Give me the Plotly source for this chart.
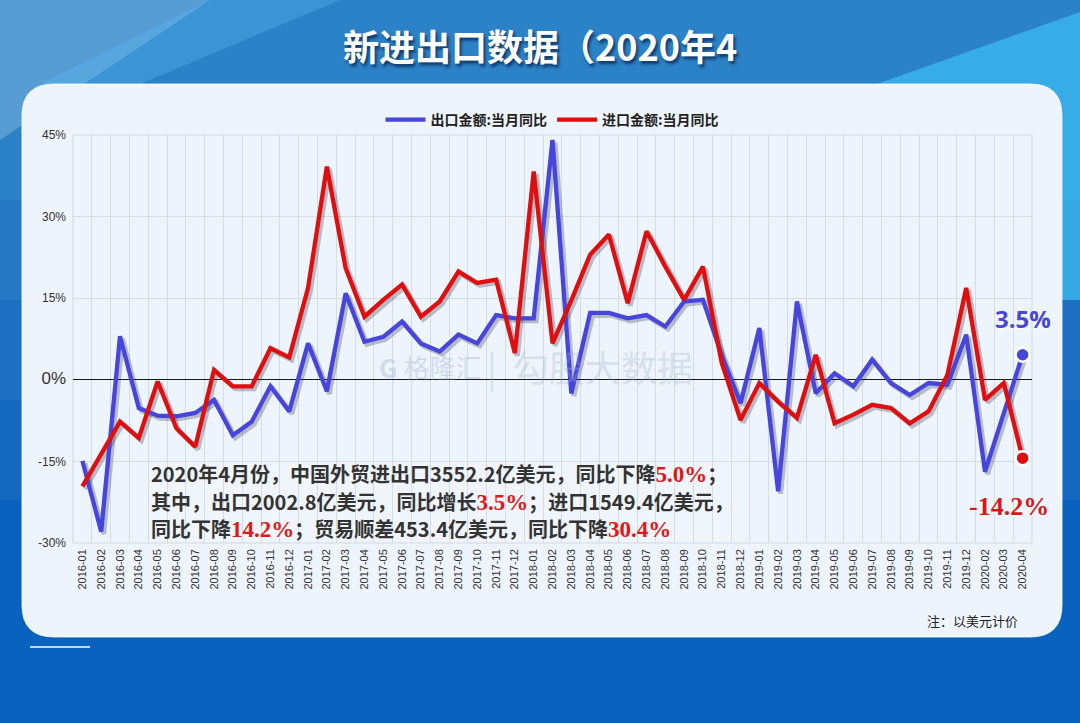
"""China monthly export / import YoY growth, Jan 2016 - Apr 2020."""
import plotly.graph_objects as go

# ── Data ──────────────────────────────────────────────────────────────────
MONTHS = [
    "2016-01", "2016-02", "2016-03", "2016-04", "2016-05", "2016-06",
    "2016-07", "2016-08", "2016-09", "2016-10", "2016-11", "2016-12",
    "2017-01", "2017-02", "2017-03", "2017-04", "2017-05", "2017-06",
    "2017-07", "2017-08", "2017-09", "2017-10", "2017-11", "2017-12",
    "2018-01", "2018-02", "2018-03", "2018-04", "2018-05", "2018-06",
    "2018-07", "2018-08", "2018-09", "2018-10", "2018-11", "2018-12",
    "2019-01", "2019-02", "2019-03", "2019-04", "2019-05", "2019-06",
    "2019-07", "2019-08", "2019-09", "2019-10", "2019-11", "2019-12",
    "2020-02", "2020-03", "2020-04",
]
EXPORTS_YOY = [
    -14.9, -27.9, 8.0, -5.2, -6.6, -6.7, -6.1, -3.7, -10.2, -7.7, -1.2, -5.8,
    6.7, -2.1, 15.9, 7.0, 7.9, 10.7, 6.7, 5.2, 8.3, 6.7, 11.9, 11.3,
    11.3, 44.1, -2.5, 12.3, 12.3, 11.3, 11.9, 9.8, 14.4, 14.7, 4.5, -4.3,
    9.5, -20.5, 14.4, -2.5, 1.2, -1.2, 3.7, -0.6, -2.8, -0.6, -0.9, 8.3,
    -16.9, -6.1, 4.6,
]
IMPORTS_YOY = [
    -19.6, -13.6, -7.7, -10.7, -0.3, -8.9, -12.3, 1.8, -1.2, -1.2, 5.8, 4.1,
    16.9, 39.2, 20.5, 11.6, 14.7, 17.5, 11.6, 14.4, 19.9, 17.8, 18.4, 4.9,
    38.3, 6.7, 14.6, 23.0, 26.7, 14.1, 27.3, 20.8, 14.7, 20.8, 3.1, -7.4,
    -0.6, -4.0, -7.0, 4.6, -8.0, -6.4, -4.6, -5.2, -8.0, -5.8, 0.9, 16.9,
    -3.7, -0.6, -14.4,
]
Y_TICKS = [-30, -15, 0, 15, 30, 45]
Y_TICK_TEXT = ["-30%", "-15%", "<span style='font-size:17px'>0%</span>",
               "15%", "30%", "45%"]
SERIES_NAMES = ["出口金额:当月同比", "进口金额:当月同比"]

# ── Geometry ──────────────────────────────────────────────────────────────
W, H = 1080, 723
L, R, T, B = 73, 1032, 135, 543          # plot area in pixels
PW, PH = R - L, B - T

BLUE = "#4646dc"
RED = "#e00f0f"
CARD = "#eef4fb"
CJK = "Noto Sans CJK SC, Noto Sans, sans-serif"

Y_RANGE = [-30, 45]
X_RANGE = [-0.5, len(MONTHS) - 0.5]


def px(x):
    return (x - L) / PW


def py(y):
    return (B - y) / PH


def poly(points):
    return "M " + " L ".join(f"{px(a):.4f},{py(b):.4f}" for a, b in points) + " Z"


def rounded_rect(x0, y0, x1, y1, r):
    p = lambda a, b: f"{px(a):.4f},{py(b):.4f}"
    return (f"M {p(x0 + r, y0)} L {p(x1 - r, y0)} Q {p(x1, y0)} {p(x1, y0 + r)} "
            f"L {p(x1, y1 - r)} Q {p(x1, y1)} {p(x1 - r, y1)} "
            f"L {p(x0 + r, y1)} Q {p(x0, y1)} {p(x0, y1 - r)} "
            f"L {p(x0, y0 + r)} Q {p(x0, y0)} {p(x0 + r, y0)} Z")


fig = go.Figure()

# invisible trace so the base axis knows its categories
fig.add_trace(go.Scatter(x=MONTHS, y=EXPORTS_YOY, mode="lines",
                         line=dict(width=0), hoverinfo="skip", showlegend=False))

# ── Soft drop shadows (shifted overlay axes) ──────────────────────────────
for vals in (EXPORTS_YOY, IMPORTS_YOY):
    fig.add_trace(go.Scatter(
        x=MONTHS, y=vals, mode="lines", xaxis="x2", yaxis="y2",
        line=dict(color="rgba(40,40,70,0.28)", width=5),
        hoverinfo="skip", showlegend=False,
    ))

# ── Main lines ────────────────────────────────────────────────────────────
for name, vals, col in ((SERIES_NAMES[0], EXPORTS_YOY, BLUE),
                        (SERIES_NAMES[1], IMPORTS_YOY, RED)):
    fig.add_trace(go.Scatter(
        x=MONTHS, y=vals, mode="lines", name=name, xaxis="x3", yaxis="y3",
        line=dict(color=col, width=4.3),
    ))

# end-point markers
for vals, col in ((EXPORTS_YOY, BLUE), (IMPORTS_YOY, RED)):
    fig.add_trace(go.Scatter(
        x=[MONTHS[-1]], y=[vals[-1]], mode="markers", xaxis="x3", yaxis="y3",
        marker=dict(color=col, size=14, line=dict(color="white", width=2.5)),
        hoverinfo="skip", showlegend=False,
    ))

# ── Background decoration ─────────────────────────────────────────────────
shapes = []
# vertical blue gradient, approximated by bands
bands = [(0, 200, "#2b82c6"), (200, 300, "#2478c4"), (300, 400, "#1c6fc2"),
         (400, 500, "#1468c0"), (500, 723, "#0a62bf")]
for y0, y1, col in bands:
    shapes.append(dict(type="rect", xref="paper", yref="paper", x0=px(0), x1=px(W),
                       y0=py(y0), y1=py(y1), fillcolor=col, line_width=0,
                       layer="below"))
shapes += [
    dict(type="path", path=poly([(0, 0), (210, 0), (0, 140)]),
         xref="paper", yref="paper", fillcolor="rgba(170,205,235,0.35)",
         line_width=0, layer="below"),
    dict(type="path", path=poly([(210, 0), (340, 0), (140, 84), (40, 84)]),
         xref="paper", yref="paper", fillcolor="rgba(90,185,240,0.35)",
         line_width=0, layer="below"),
    dict(type="path", path=poly([(860, 90), (1080, 12), (1080, 300), (1060, 300)]),
         xref="paper", yref="paper", fillcolor="rgba(60,185,240,0.75)",
         line_width=0, layer="below"),
    # rounded white card
    dict(type="path", path=rounded_rect(22, 84, 1062, 637, 32),
         xref="paper", yref="paper", fillcolor=CARD,
         line=dict(color="rgba(255,255,255,0.8)", width=1), layer="below"),
    # plot frame
    dict(type="rect", xref="paper", yref="paper", x0=0, x1=1, y0=0, y1=1,
         line=dict(color="#d3d9e1", width=1), layer="below"),
    # light backing behind the summary text
    dict(type="rect", xref="paper", yref="paper", x0=px(148), x1=px(745),
         y0=py(460), y1=py(541), fillcolor="rgba(240,246,252,0.55)",
         line_width=0, layer="below"),
    # small white rule under the card
    dict(type="line", xref="paper", yref="paper", x0=px(30), x1=px(90),
         y0=py(647), y1=py(647), line=dict(color="white", width=1.5)),
]

# ── Text annotations ──────────────────────────────────────────────────────
def hi(txt):
    return (f"<span style='font-family:Liberation Serif, serif;"
            f"font-size:23px;color:#e01818'>{txt}</span>")


SUMMARY_LINES = [
    f"2020年4月份，中国外贸进出口3552.2亿美元，同比下降{hi('5.0%')}；",
    f"其中，出口2002.8亿美元，同比增长{hi('3.5%')}；进口1549.4亿美元，",
    f"同比下降{hi('14.2%')}；贸易顺差453.4亿美元，同比下降{hi('30.4%')}",
]
SUMMARY_Y = [473.5, 501, 528.5]

annotations = [
    dict(text="<b>新进出口数据（2020年4</b>", x=px(540), y=py(45),
         xref="paper", yref="paper", xanchor="center", yanchor="middle",
         showarrow=False,
         font=dict(family=CJK, size=36, color="white",
                   shadow="2px 3px 3px rgba(0,20,60,0.65)")),
    dict(text="<b>G</b> 格隆汇", x=px(430), y=py(366), xref="paper", yref="paper",
         yanchor="middle", showarrow=False,
         font=dict(family=CJK, size=26, color="rgba(150,172,205,0.35)")),
    dict(text="|  勾股大数据", x=px(590), y=py(366), xref="paper", yref="paper",
         yanchor="middle", showarrow=False,
         font=dict(family=CJK, size=36, color="rgba(150,172,205,0.30)")),
    dict(text="<b>3.5%</b>", x=MONTHS[-1], y=EXPORTS_YOY[-1], xref="x3", yref="y3",
         yshift=36, xshift=0, showarrow=False,
         font=dict(family="Open Sans, sans-serif", size=24, color="#4848d8",
                   shadow="1px 1px 2px white")),
    dict(text="<b>-14.2%</b>", x=MONTHS[-1], y=IMPORTS_YOY[-1], xref="x3", yref="y3",
         yshift=-48, xshift=-14, showarrow=False,
         font=dict(family="Liberation Serif, serif", size=26, color="#d81818",
                   shadow="1px 1px 2px white")),
    dict(text="注：以美元计价", x=px(1020), y=py(620), xref="paper", yref="paper",
         xanchor="right", yanchor="middle", showarrow=False,
         font=dict(family=CJK, size=13, color="#222222")),
]
for line, yy in zip(SUMMARY_LINES, SUMMARY_Y):
    annotations.append(dict(
        text=line, x=px(150), y=py(yy), xref="paper", yref="paper",
        xanchor="left", yanchor="middle", align="left", showarrow=False,
        borderpad=0,
        font=dict(family=CJK, size=20, color="#333333", weight="bold"),
    ))

hidden_x = dict(type="category", categoryarray=MONTHS, visible=False,
                overlaying="x", showgrid=False, zeroline=False)
hidden_y = dict(visible=False, overlaying="y", showgrid=False, zeroline=False)
shift_x = 2.5 / (PW / len(MONTHS))
shift_y = 2.5 / (PH / (Y_RANGE[1] - Y_RANGE[0]))

fig.update_layout(
    width=W, height=H,
    margin=dict(l=L, r=W - R, t=T, b=H - B),
    paper_bgcolor="#0a62bf",
    plot_bgcolor=CARD,
    font=dict(family=CJK, color="#333333"),
    shapes=shapes,
    annotations=annotations,
    showlegend=True,
    legend=dict(orientation="h", x=0.5, xanchor="center", y=py(120),
                yanchor="middle", bgcolor="rgba(0,0,0,0)",
                font=dict(family=CJK, size=14, color="#222222", weight="bold"),
                itemwidth=40, tracegroupgap=0),
    xaxis=dict(type="category", categoryarray=MONTHS, range=X_RANGE,
               tickson="boundaries", showgrid=True, gridcolor="#d6dce4",
               gridwidth=1, ticks="", tickangle=-90,
               tickfont=dict(family="Liberation Sans, Arial, sans-serif",
                             size=11, color="#333333"),
               ticklabelstandoff=3, showline=False, zeroline=False),
    yaxis=dict(range=Y_RANGE, tickvals=Y_TICKS, ticktext=Y_TICK_TEXT,
               showgrid=True, gridcolor="#d6dce4", gridwidth=1, ticks="",
               tickfont=dict(family="Liberation Sans, Arial, sans-serif",
                             size=12, color="#333333"),
               ticklabelstandoff=6, zeroline=True, zerolinecolor="#1a1a1a",
               zerolinewidth=1.3, showline=False),
    xaxis2=dict(hidden_x, range=[X_RANGE[0] - shift_x, X_RANGE[1] - shift_x]),
    yaxis2=dict(hidden_y, range=[Y_RANGE[0] + shift_y, Y_RANGE[1] + shift_y]),
    xaxis3=dict(hidden_x, range=X_RANGE),
    yaxis3=dict(hidden_y, range=Y_RANGE),
)

# drop the browser's default body margin so the figure sits at (0, 0)
fig.write_html("out.html", config={"displayModeBar": False},
               post_script="document.body.style.margin='0';")
